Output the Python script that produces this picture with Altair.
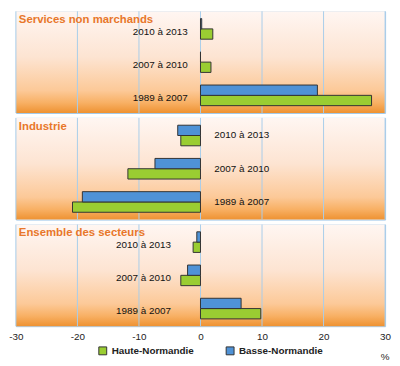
import altair as alt
import pandas as pd

categories = ["2010 à 2013", "2007 à 2010", "1989 à 2007"]
sectors = ["Services non marchands", "Industrie", "Ensemble des secteurs"]
regions = ["Haute-Normandie", "Basse-Normandie"]
haute = {
    "Services non marchands": [2.0, 1.7, 27.8],
    "Industrie": [-3.2, -11.8, -20.8],
    "Ensemble des secteurs": [-1.2, -3.2, 9.8],
}
basse = {
    "Services non marchands": [0.2, 0.0, 19.0],
    "Industrie": [-3.7, -7.4, -19.2],
    "Ensemble des secteurs": [-0.6, -2.1, 6.6],
}
ticks = [-30, -20, -10, 0, 10, 20, 30]

FONT = "Liberation Sans, Arial, sans-serif"
W, H = 374, 103
GREEN, BLUE = "#9acd32", "#4f92d6"

xscale = alt.Scale(domain=[-30, 30], nice=False, zero=False)
yscale = alt.Scale(paddingInner=0.38, paddingOuter=0.22)

gradient = alt.Gradient(
    gradient="linear",
    stops=[
        alt.GradientStop(color="#fff6f2", offset=0),
        alt.GradientStop(color="#fde4d2", offset=0.45),
        alt.GradientStop(color="#fcc998", offset=0.78),
        alt.GradientStop(color="#f8b064", offset=0.9),
        alt.GradientStop(color="#ee9232", offset=1),
    ],
    x1=0, x2=0, y1=0, y2=1,
)

one = pd.DataFrame({"a": [0]})
tick_df = pd.DataFrame({"t": ticks})
cat_df = pd.DataFrame({"period": categories})


def panel(sector, bottom, label_px, label_align, label_dy):
    rows = []
    for i, c in enumerate(categories):
        rows.append({"period": c, "region": "Haute-Normandie", "value": haute[sector][i]})
        rows.append({"period": c, "region": "Basse-Normandie", "value": basse[sector][i]})
    df = pd.DataFrame(rows)

    if bottom:
        xaxis = alt.Axis(values=ticks, title=None, grid=False, domain=False, ticks=False,
                         labelFlush=False, labelExpr="'' + datum.value",
                         labelFontSize=10, labelColor="#222", labelFont=FONT, labelPadding=5)
    else:
        xaxis = None

    bg = alt.Chart(one).mark_rect(fill=gradient).encode(
        x=alt.value(0), x2=alt.value(W), y=alt.value(0), y2=alt.value(H)
    )
    grid = alt.Chart(tick_df).mark_rule(color="#a9cdea", strokeWidth=1).encode(
        x=alt.X("t:Q", scale=xscale, axis=xaxis)
    )
    bars = alt.Chart(df).mark_bar(stroke="#333333", strokeWidth=1).encode(
        x=alt.X("value:Q", scale=xscale, axis=xaxis),
        y=alt.Y("period:N", sort=categories, scale=yscale, axis=None),
        yOffset=alt.YOffset("region:N", sort=["Basse-Normandie", "Haute-Normandie"]),
        color=alt.Color(
            "region:N",
            scale=alt.Scale(domain=regions, range=[GREEN, BLUE]),
            legend=alt.Legend(
                title=None, orient="none", direction="horizontal",
                legendX=83, legendY=339,
                symbolType="square", symbolSize=64, symbolStrokeColor="#333",
                symbolStrokeWidth=1, labelFontSize=10, labelFont=FONT,
                labelFontWeight="bold", labelColor="#222", columnPadding=30,
            ),
        ),
    )
    labels = alt.Chart(cat_df).mark_text(
        align=label_align, baseline="middle", fontSize=10, font=FONT, color="#111",
        dy=label_dy,
    ).encode(
        y=alt.Y("period:N", sort=categories, scale=yscale, axis=None),
        x=alt.value(label_px),
        text="period:N",
    )
    title = alt.Chart(one).mark_text(
        align="left", baseline="middle", fontSize=11.5, font=FONT,
        fontWeight="bold", color="#e8772a"
    ).encode(x=alt.value(3), y=alt.value(9), text=alt.value(sector))
    layers = [bg, grid, bars, labels, title]
    if bottom:
        pct = alt.Chart(one).mark_text(
            align="center", baseline="middle", fontSize=10, font=FONT, color="#222"
        ).encode(x=alt.value(W), y=alt.value(H + 31), text=alt.value("%"))
        layers.append(pct)
    return alt.layer(*layers).properties(width=W, height=H)


p1 = panel("Services non marchands", False, 174, "right", 3)
p2 = panel("Industrie", False, 201, "left", 0)
p3 = panel("Ensemble des secteurs", True, 157, "right", 3)

chart = alt.vconcat(p1, p2, p3, spacing=3).properties(padding=0).configure_view(
    stroke="#9cc6ea", strokeWidth=1
)

chart.save("out.html", embed_options={"renderer": "svg", "actions": False})
